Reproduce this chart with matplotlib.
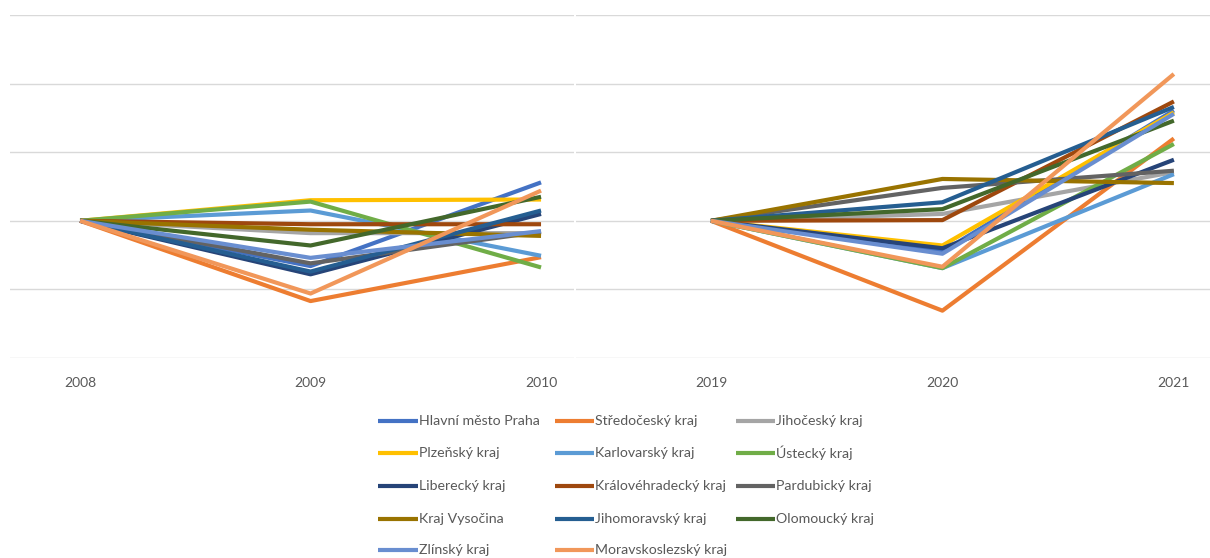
import matplotlib
matplotlib.use("Agg")
import matplotlib.pyplot as plt
from matplotlib.lines import Line2D

# Regions of Czechia, index (first year = 100)
regions = [
    "Hlavní město Praha", "Středočeský kraj", "Jihočeský kraj",
    "Plzeňský kraj", "Karlovarský kraj", "Ústecký kraj",
    "Liberecký kraj", "Královéhradecký kraj", "Pardubický kraj",
    "Kraj Vysočina", "Jihomoravský kraj", "Olomoucký kraj",
    "Zlínský kraj", "Moravskoslezský kraj",
]
colors = [
    "#4472C4", "#ED7D31", "#A5A5A5", "#FFC000", "#5B9BD5", "#70AD47",
    "#264478", "#9E480E", "#636363", "#997300", "#255E91", "#43682B",
    "#698ED0", "#F1975A",
]

years_a = ["2008", "2009", "2010"]
years_b = ["2019", "2020", "2021"]

y2008 = [100] * 14
y2009 = [93.4, 88.3, 98.2, 103.0, 101.5, 102.8, 92.2, 99.5, 93.8, 98.7, 92.6, 96.4, 94.6, 89.4]
y2010 = [105.6, 94.7, 98.2, 103.1, 94.9, 93.2, 101.0, 99.5, 98.4, 97.8, 101.5, 103.5, 98.5, 104.4]

y2019 = [100] * 14
y2020 = [95.5, 86.9, 101.0, 96.4, 93.1, 93.1, 96.0, 100.1, 104.8, 106.1, 102.7, 101.7, 95.2, 93.3]
y2021 = [116.1, 112.0, 107.1, 115.8, 106.8, 111.2, 108.9, 117.4, 107.3, 105.5, 116.6, 114.6, 115.6, 121.4]

grid_ticks = [80, 90, 100, 110, 120, 130]

W, H = 1210, 558
fig = plt.figure(figsize=(W / 100, H / 100), dpi=100)
fig.patch.set_facecolor("white")

FONT = ["Lato", "DejaVu Sans"]
TXT = "#595959"
LW = 3.0


def px_rect(x0, x1, ytop, ybot):
    return [x0 / W, (H - ybot) / H, (x1 - x0) / W, (ybot - ytop) / H]


ax_a = fig.add_axes(px_rect(10, 574, 15, 358))
ax_b = fig.add_axes(px_rect(576, 1210, 15, 358))

panels = [
    (ax_a, years_a, (y2008, y2009, y2010), (-0.304, 2.143)),
    (ax_b, years_b, (y2019, y2020, y2021), (-0.583, 2.156)),
]

for ax, years, cols, xlim in panels:
    xs = list(range(len(years)))
    for i, name in enumerate(regions):
        vals = [c[i] for c in cols]
        ax.plot(xs, vals, color=colors[i], lw=LW, solid_joinstyle="round",
                solid_capstyle="butt", zorder=3 + i)
    ax.set_xlim(*xlim)
    ax.set_ylim(80, 130)
    ax.set_yticks(grid_ticks)
    ax.set_yticklabels([])
    ax.tick_params(axis="y", length=0)
    ax.set_xticks(xs)
    ax.set_xticklabels(years, fontsize=10, color=TXT, family=FONT)
    ax.tick_params(axis="x", length=0, pad=14)
    ax.grid(axis="y", color="#D9D9D9", lw=1.0, zorder=0)
    for s in ax.spines.values():
        s.set_visible(False)
    ax.set_facecolor("none")

# Legend laid out in three columns, row by row
row_y = [421, 453, 486, 519, 550]
col_x = [(378, 418), (555, 594), (736, 775)]
for i, name in enumerate(regions):
    r, c = divmod(i, 3)
    x0, x1 = col_x[c]
    yy = (H - row_y[r]) / H
    fig.add_artist(Line2D([x0 / W, x1 / W], [yy, yy], color=colors[i], lw=LW,
                          solid_capstyle="butt", transform=fig.transFigure))
    fig.text((x1 + 1) / W, yy, name, fontsize=10.2, color=TXT, family=FONT,
             va="center", ha="left")

fig.savefig("out.png", dpi=100, facecolor="white")
